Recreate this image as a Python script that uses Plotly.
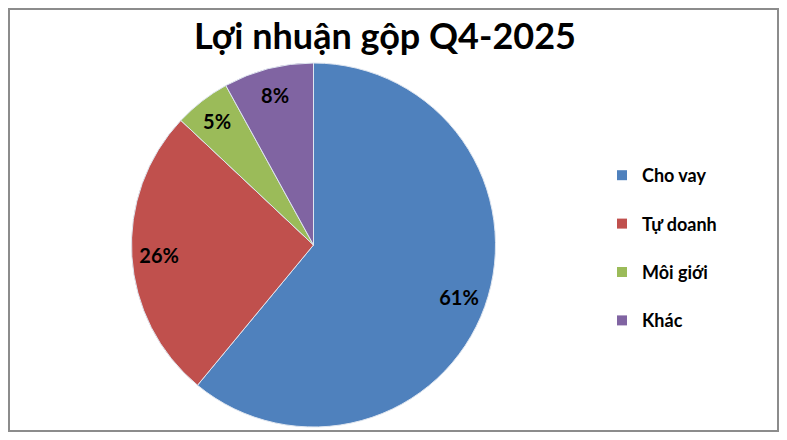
import plotly.graph_objects as go

# Dati
labels = ["Cho vay", "Tự doanh", "Môi giới", "Khác"]
values = [61, 26, 5, 8]
colors = ["#4F81BD", "#C0504D", "#9BBB59", "#8064A2"]

# la pagina ha un margine di 8px: figura ridotta per non uscire dalla finestra
OX, OY = 8, 8
W, H = 787 - 2 * OX, 440 - 2 * OY
FONT = "Lato"


def px(x):
    return (x - OX) / W


def py(y):
    return 1 - (y - OY) / H


dom = dict(x=[px(131), px(496)], y=[py(427), py(63)])

fig = go.Figure()

# Torta
fig.add_trace(go.Pie(
    labels=labels, values=values,
    sort=False, direction="clockwise", rotation=0,
    marker=dict(colors=colors, line=dict(color="#dfe6f0", width=1)),
    textinfo="none", domain=dom,
    showlegend=False, hoverinfo="label+percent",
))

# Etichette percentuali verso il bordo (anello trasparente)
fig.add_trace(go.Pie(
    labels=labels, values=values,
    sort=False, direction="clockwise", rotation=0, hole=0.7,
    marker=dict(colors=["rgba(0,0,0,0)"] * len(values)),
    textinfo="percent", textposition="inside",
    insidetextorientation="horizontal",
    textfont=dict(family=FONT, size=20, color="black", weight="bold"),
    domain=dom, showlegend=False, hoverinfo="skip",
))

# Legenda: una voce per gruppo per avere spaziatura alla Excel
for lab, col in zip(labels, colors):
    fig.add_trace(go.Scatter(
        x=[None], y=[None], mode="markers", name=lab, legendgroup=lab,
        marker=dict(symbol="square", size=10, color=col),
    ))

fig.update_layout(
    width=W, height=H,
    margin=dict(l=0, r=0, t=0, b=0),
    paper_bgcolor="white", plot_bgcolor="white",
    title=dict(text="<b>Lợi nhuận gộp Q4-2025</b>", x=px(385), xanchor="center",
               y=py(36), yanchor="middle",
               font=dict(family=FONT, size=36, color="black")),
    xaxis=dict(visible=False), yaxis=dict(visible=False),
    legend=dict(x=px(602), y=py(157), xanchor="left", yanchor="top",
                tracegroupgap=22, itemclick=False,
                font=dict(family=FONT, size=18, color="black", weight="bold")),
    shapes=[dict(type="rect", xref="paper", yref="paper",
                 x0=1 / W, x1=1 - 1 / W, y0=1 / H, y1=1 - 1 / H,
                 line=dict(color="#8c8c8c", width=2))],
)

fig.write_html("out.html")
